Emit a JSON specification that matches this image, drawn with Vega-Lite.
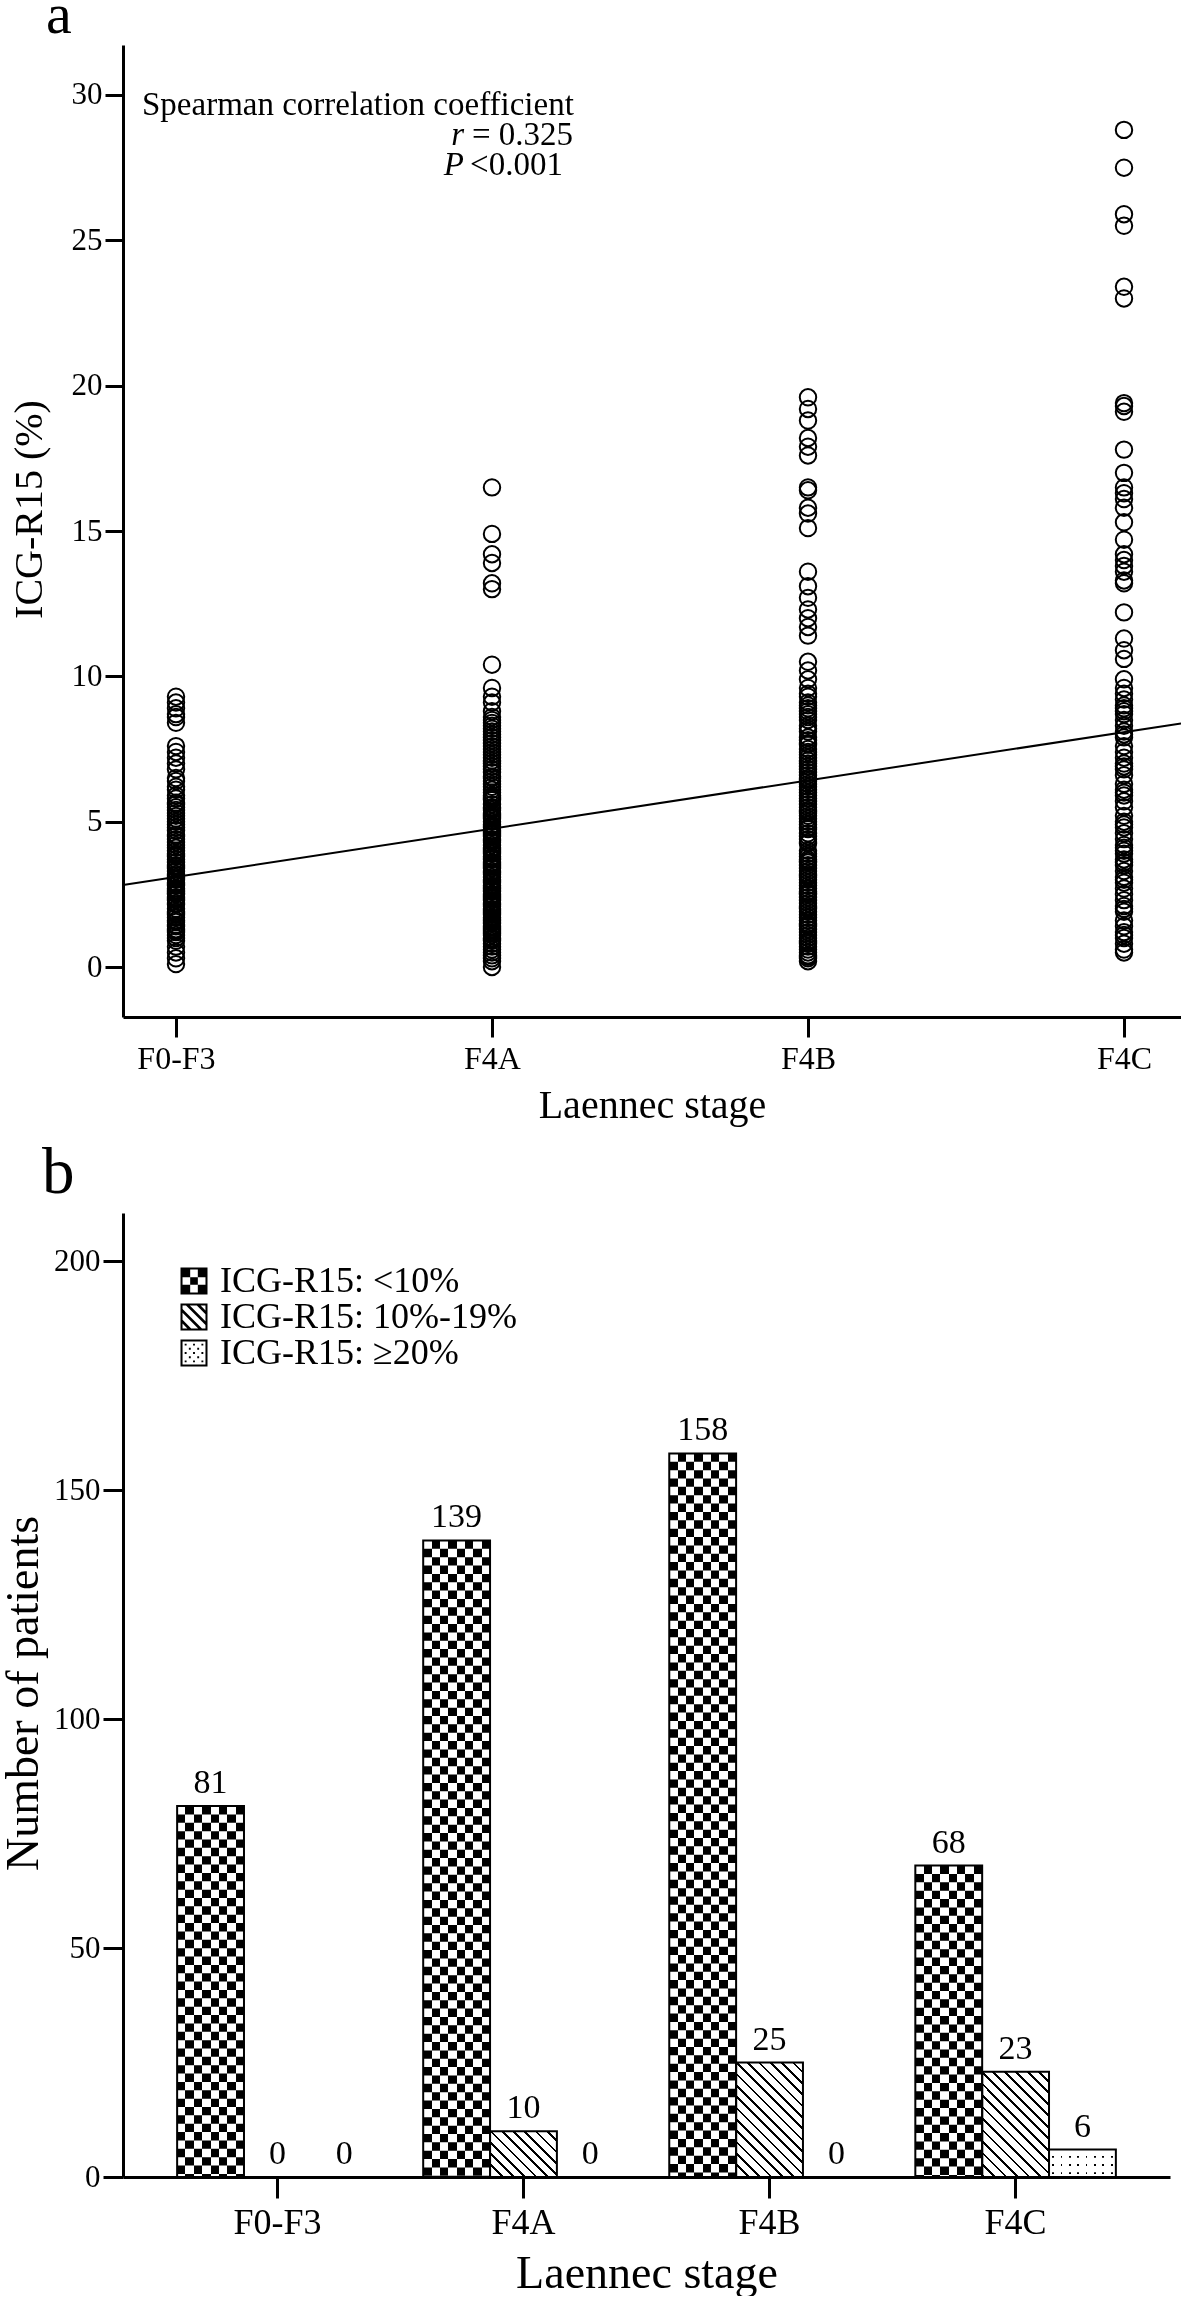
{
"$schema": "https://vega.github.io/schema/vega-lite/v6.json",
"background": "white",
"padding": {"left": 0, "top": -13, "right": 0, "bottom": 0},
"spacing": 16,
"resolve": {"legend": {"shape": "independent"}},
"config": {
  "view": {"stroke": null},
  "font": "Liberation Serif",
  "axis": {"grid": false, "domainColor": "#000", "tickColor": "#000", "labelColor": "#000", "titleColor": "#000", "labelFont": "Liberation Serif", "titleFont": "Liberation Serif", "titleFontWeight": "normal", "domainWidth": 3, "tickWidth": 3, "labelFlush": false, "labelOverlap": false},
  "title": {"font": "Liberation Serif", "fontWeight": "normal", "color": "#000"}
},
"datasets": {
  "pts": [
    {"s":1,"v":9.3},{"s":1,"v":9.1},{"s":1,"v":8.9},{"s":1,"v":8.7},{"s":1,"v":8.6},{"s":1,"v":8.4},{"s":1,"v":7.6},{"s":1,"v":7.4},{"s":1,"v":7.2},{"s":1,"v":7.0},
    {"s":1,"v":6.8},{"s":1,"v":6.5},{"s":1,"v":6.4},{"s":1,"v":6.2},{"s":1,"v":6.1},{"s":1,"v":5.9},{"s":1,"v":5.8},{"s":1,"v":5.65},{"s":1,"v":5.6},{"s":1,"v":5.5},
    {"s":1,"v":5.4},{"s":1,"v":5.3},{"s":1,"v":5.2},{"s":1,"v":5.1},{"s":1,"v":5.0},{"s":1,"v":4.9},{"s":1,"v":4.8},{"s":1,"v":4.7},{"s":1,"v":4.55},{"s":1,"v":4.5},
    {"s":1,"v":4.4},{"s":1,"v":4.3},{"s":1,"v":4.2},{"s":1,"v":4.1},{"s":1,"v":4.0},{"s":1,"v":3.9},{"s":1,"v":3.85},{"s":1,"v":3.8},{"s":1,"v":3.7},{"s":1,"v":3.6},
    {"s":1,"v":3.5},{"s":1,"v":3.45},{"s":1,"v":3.4},{"s":1,"v":3.3},{"s":1,"v":3.2},{"s":1,"v":3.15},{"s":1,"v":3.1},{"s":1,"v":3.05},{"s":1,"v":3.0},{"s":1,"v":2.9},
    {"s":1,"v":2.85},{"s":1,"v":2.8},{"s":1,"v":2.7},{"s":1,"v":2.65},{"s":1,"v":2.6},{"s":1,"v":2.55},{"s":1,"v":2.5},{"s":1,"v":2.4},{"s":1,"v":2.35},{"s":1,"v":2.3},
    {"s":1,"v":2.2},{"s":1,"v":2.15},{"s":1,"v":2.0},{"s":1,"v":1.9},{"s":1,"v":1.85},{"s":1,"v":1.8},{"s":1,"v":1.7},{"s":1,"v":1.6},{"s":1,"v":1.55},{"s":1,"v":1.45},
    {"s":1,"v":1.4},{"s":1,"v":1.3},{"s":1,"v":1.25},{"s":1,"v":1.2},{"s":1,"v":1.1},{"s":1,"v":1.0},{"s":1,"v":0.9},{"s":1,"v":0.7},{"s":1,"v":0.5},{"s":1,"v":0.3},{"s":1,"v":0.1},
    {"s":2,"v":16.5},{"s":2,"v":14.9},{"s":2,"v":14.2},{"s":2,"v":13.9},{"s":2,"v":13.2},{"s":2,"v":13.0},{"s":2,"v":10.4},{"s":2,"v":9.6},{"s":2,"v":9.3},{"s":2,"v":9.1},
    {"s":2,"v":8.8},{"s":2,"v":8.6},{"s":2,"v":8.5},{"s":2,"v":8.4},{"s":2,"v":8.3},{"s":2,"v":8.2},{"s":2,"v":8.1},{"s":2,"v":8.0},{"s":2,"v":7.9},{"s":2,"v":7.8},
    {"s":2,"v":7.7},{"s":2,"v":7.6},{"s":2,"v":7.5},{"s":2,"v":7.4},{"s":2,"v":7.3},{"s":2,"v":7.2},{"s":2,"v":7.1},{"s":2,"v":7.0},{"s":2,"v":6.9},{"s":2,"v":6.8},
    {"s":2,"v":6.7},{"s":2,"v":6.55},{"s":2,"v":6.5},{"s":2,"v":6.4},{"s":2,"v":6.3},{"s":2,"v":6.2},{"s":2,"v":6.1},{"s":2,"v":6.0},{"s":2,"v":5.9},{"s":2,"v":5.85},
    {"s":2,"v":5.8},{"s":2,"v":5.75},{"s":2,"v":5.6},{"s":2,"v":5.5},{"s":2,"v":5.45},{"s":2,"v":5.4},{"s":2,"v":5.3},{"s":2,"v":5.25},{"s":2,"v":5.2},{"s":2,"v":5.15},
    {"s":2,"v":5.1},{"s":2,"v":5.0},{"s":2,"v":4.9},{"s":2,"v":4.85},{"s":2,"v":4.8},{"s":2,"v":4.7},{"s":2,"v":4.65},{"s":2,"v":4.6},{"s":2,"v":4.55},{"s":2,"v":4.5},
    {"s":2,"v":4.4},{"s":2,"v":4.35},{"s":2,"v":4.3},{"s":2,"v":4.2},{"s":2,"v":4.1},{"s":2,"v":4.05},{"s":2,"v":4.0},{"s":2,"v":3.95},{"s":2,"v":3.9},{"s":2,"v":3.8},
    {"s":2,"v":3.75},{"s":2,"v":3.7},{"s":2,"v":3.6},{"s":2,"v":3.55},{"s":2,"v":3.5},{"s":2,"v":3.45},{"s":2,"v":3.4},{"s":2,"v":3.3},{"s":2,"v":3.25},{"s":2,"v":3.2},
    {"s":2,"v":3.1},{"s":2,"v":3.0},{"s":2,"v":2.95},{"s":2,"v":2.9},{"s":2,"v":2.8},{"s":2,"v":2.75},{"s":2,"v":2.7},{"s":2,"v":2.65},{"s":2,"v":2.6},{"s":2,"v":2.5},
    {"s":2,"v":2.45},{"s":2,"v":2.4},{"s":2,"v":2.35},{"s":2,"v":2.3},{"s":2,"v":2.2},{"s":2,"v":2.15},{"s":2,"v":2.1},{"s":2,"v":2.0},{"s":2,"v":1.95},{"s":2,"v":1.9},
    {"s":2,"v":1.85},{"s":2,"v":1.8},{"s":2,"v":1.7},{"s":2,"v":1.65},{"s":2,"v":1.6},{"s":2,"v":1.55},{"s":2,"v":1.5},{"s":2,"v":1.4},{"s":2,"v":1.35},{"s":2,"v":1.3},
    {"s":2,"v":1.25},{"s":2,"v":1.2},{"s":2,"v":1.15},{"s":2,"v":1.1},{"s":2,"v":1.0},{"s":2,"v":0.95},{"s":2,"v":0.9},{"s":2,"v":0.8},{"s":2,"v":0.7},{"s":2,"v":0.6},
    {"s":2,"v":0.5},{"s":2,"v":0.4},{"s":2,"v":0.3},{"s":2,"v":0.2},{"s":2,"v":0.0},
    {"s":3,"v":19.6},{"s":3,"v":19.2},{"s":3,"v":18.8},{"s":3,"v":18.2},{"s":3,"v":17.9},{"s":3,"v":17.6},{"s":3,"v":16.5},{"s":3,"v":16.4},{"s":3,"v":15.8},{"s":3,"v":15.6},
    {"s":3,"v":15.1},{"s":3,"v":13.6},{"s":3,"v":13.1},{"s":3,"v":12.7},{"s":3,"v":12.3},{"s":3,"v":12.0},{"s":3,"v":11.7},{"s":3,"v":11.4},{"s":3,"v":10.5},{"s":3,"v":10.2},
    {"s":3,"v":9.9},{"s":3,"v":9.6},{"s":3,"v":9.4},{"s":3,"v":9.3},{"s":3,"v":9.1},{"s":3,"v":9.0},{"s":3,"v":8.9},{"s":3,"v":8.8},{"s":3,"v":8.7},{"s":3,"v":8.6},
    {"s":3,"v":8.5},{"s":3,"v":8.3},{"s":3,"v":8.2},{"s":3,"v":8.1},{"s":3,"v":7.9},{"s":3,"v":7.8},{"s":3,"v":7.7},{"s":3,"v":7.65},{"s":3,"v":7.5},{"s":3,"v":7.4},
    {"s":3,"v":7.3},{"s":3,"v":7.2},{"s":3,"v":7.1},{"s":3,"v":7.0},{"s":3,"v":6.9},{"s":3,"v":6.8},{"s":3,"v":6.7},{"s":3,"v":6.6},{"s":3,"v":6.5},{"s":3,"v":6.45},
    {"s":3,"v":6.4},{"s":3,"v":6.3},{"s":3,"v":6.2},{"s":3,"v":6.1},{"s":3,"v":6.0},{"s":3,"v":5.9},{"s":3,"v":5.8},{"s":3,"v":5.7},{"s":3,"v":5.6},{"s":3,"v":5.5},
    {"s":3,"v":5.4},{"s":3,"v":5.35},{"s":3,"v":5.3},{"s":3,"v":5.2},{"s":3,"v":5.1},{"s":3,"v":5.0},{"s":3,"v":4.9},{"s":3,"v":4.8},{"s":3,"v":4.75},{"s":3,"v":4.6},
    {"s":3,"v":4.5},{"s":3,"v":4.4},{"s":3,"v":4.3},{"s":3,"v":4.25},{"s":3,"v":4.0},{"s":3,"v":3.9},{"s":3,"v":3.8},{"s":3,"v":3.7},{"s":3,"v":3.65},{"s":3,"v":3.6},
    {"s":3,"v":3.5},{"s":3,"v":3.4},{"s":3,"v":3.3},{"s":3,"v":3.2},{"s":3,"v":3.15},{"s":3,"v":3.1},{"s":3,"v":3.0},{"s":3,"v":2.9},{"s":3,"v":2.8},{"s":3,"v":2.7},
    {"s":3,"v":2.6},{"s":3,"v":2.55},{"s":3,"v":2.5},{"s":3,"v":2.4},{"s":3,"v":2.3},{"s":3,"v":2.2},{"s":3,"v":2.1},{"s":3,"v":2.05},{"s":3,"v":2.0},{"s":3,"v":1.9},
    {"s":3,"v":1.8},{"s":3,"v":1.7},{"s":3,"v":1.6},{"s":3,"v":1.5},{"s":3,"v":1.45},{"s":3,"v":1.4},{"s":3,"v":1.3},{"s":3,"v":1.2},{"s":3,"v":1.1},{"s":3,"v":1.0},
    {"s":3,"v":0.9},{"s":3,"v":0.85},{"s":3,"v":0.8},{"s":3,"v":0.7},{"s":3,"v":0.6},{"s":3,"v":0.5},{"s":3,"v":0.4},{"s":3,"v":0.35},{"s":3,"v":0.3},{"s":3,"v":0.2},
    {"s":4,"v":28.8},{"s":4,"v":27.5},{"s":4,"v":25.9},{"s":4,"v":25.5},{"s":4,"v":23.4},{"s":4,"v":23.0},{"s":4,"v":19.4},{"s":4,"v":19.3},{"s":4,"v":19.1},{"s":4,"v":17.8},
    {"s":4,"v":17.0},{"s":4,"v":16.5},{"s":4,"v":16.3},{"s":4,"v":16.1},{"s":4,"v":15.8},{"s":4,"v":15.3},{"s":4,"v":14.7},{"s":4,"v":14.2},{"s":4,"v":14.0},{"s":4,"v":13.8},
    {"s":4,"v":13.6},{"s":4,"v":13.3},{"s":4,"v":13.2},{"s":4,"v":12.2},{"s":4,"v":11.3},{"s":4,"v":10.9},{"s":4,"v":10.6},{"s":4,"v":9.9},{"s":4,"v":9.6},{"s":4,"v":9.4},
    {"s":4,"v":9.2},{"s":4,"v":9.0},{"s":4,"v":8.9},{"s":4,"v":8.8},{"s":4,"v":8.7},{"s":4,"v":8.5},{"s":4,"v":8.3},{"s":4,"v":8.1},{"s":4,"v":8.0},{"s":4,"v":7.9},
    {"s":4,"v":7.6},{"s":4,"v":7.4},{"s":4,"v":7.2},{"s":4,"v":7.0},{"s":4,"v":6.9},{"s":4,"v":6.8},{"s":4,"v":6.6},{"s":4,"v":6.3},{"s":4,"v":6.1},{"s":4,"v":6.0},
    {"s":4,"v":5.9},{"s":4,"v":5.7},{"s":4,"v":5.5},{"s":4,"v":5.2},{"s":4,"v":5.0},{"s":4,"v":4.9},{"s":4,"v":4.8},{"s":4,"v":4.6},{"s":4,"v":4.4},{"s":4,"v":4.2},
    {"s":4,"v":4.1},{"s":4,"v":4.0},{"s":4,"v":3.9},{"s":4,"v":3.7},{"s":4,"v":3.6},{"s":4,"v":3.5},{"s":4,"v":3.3},{"s":4,"v":3.1},{"s":4,"v":3.0},{"s":4,"v":2.9},
    {"s":4,"v":2.7},{"s":4,"v":2.5},{"s":4,"v":2.3},{"s":4,"v":2.1},{"s":4,"v":2.0},{"s":4,"v":1.9},{"s":4,"v":1.6},{"s":4,"v":1.4},{"s":4,"v":1.2},{"s":4,"v":1.1},
    {"s":4,"v":1.0},{"s":4,"v":0.8},{"s":4,"v":0.6},{"s":4,"v":0.5}
  ]
},
"vconcat": [
  {
    "width": 1058, "height": 972,
    "title": {"text": "a", "anchor": "start", "frame": "group", "fontSize": 58, "baseline": "alphabetic", "offset": -46, "dx": -77},
    "layer": [
      {"data": {"name": "pts"}, "mark": {"type": "point", "shape": "circle", "size": 270, "filled": false, "stroke": "#000", "strokeWidth": 2, "opacity": 1},
       "encoding": {
         "x": {"field": "s", "type": "quantitative", "title": "Laennec stage", "scale": {"domain": [0.8323, 4.1804], "nice": false, "zero": false},
               "axis": {"values": [1, 2, 3, 4], "labelExpr": "datum.value == 1 ? 'F0-F3' : datum.value == 2 ? 'F4A' : datum.value == 3 ? 'F4B' : 'F4C'", "titleFontSize": 40, "titleY": 100, "titleBaseline": "alphabetic", "labelFontSize": 32, "labelPadding": 6, "tickSize": 20}},
         "y": {"field": "v", "type": "quantitative", "title": "ICG-R15 (%)", "scale": {"domain": [-1.72, 31.72], "nice": false, "zero": false},
               "axis": {"values": [0, 5, 10, 15, 20, 25, 30], "titleFontSize": 40, "titleAngle": 270, "titleX": -81.5, "titleY": 464, "titleAlign": "center", "titleBaseline": "alphabetic", "labelFontSize": 31, "labelPadding": 3, "tickSize": 18}}
       }},
      {"data": {"values": [{"s": 0.8323, "v": 2.82}, {"s": 4.1804, "v": 8.38}]}, "mark": {"type": "line", "stroke": "#000", "strokeWidth": 2},
       "encoding": {
         "x": {"field": "s", "type": "quantitative", "title": "Laennec stage", "scale": {"domain": [0.8323, 4.1804], "nice": false, "zero": false}},
         "y": {"field": "v", "type": "quantitative", "title": "ICG-R15 (%)", "scale": {"domain": [-1.72, 31.72], "nice": false, "zero": false}}}},
      {"data": {"values": [{}]}, "mark": {"type": "text", "align": "left", "baseline": "alphabetic", "fontSize": 33, "font": "Liberation Serif", "color": "#000", "text": "Spearman correlation coefficient"},
       "encoding": {"x": {"datum": 0.8924, "type": "quantitative", "title": "Laennec stage", "scale": {"domain": [0.8323, 4.1804], "nice": false, "zero": false}}, "y": {"datum": 29.31, "type": "quantitative", "title": "ICG-R15 (%)", "scale": {"domain": [-1.72, 31.72], "nice": false, "zero": false}}}},
      {"data": {"values": [{}]}, "mark": {"type": "text", "align": "right", "baseline": "alphabetic", "fontSize": 33, "font": "Liberation Serif", "color": "#000", "text": "= 0.325"},
       "encoding": {"x": {"datum": 2.2564, "type": "quantitative", "title": "Laennec stage", "scale": {"domain": [0.8323, 4.1804], "nice": false, "zero": false}}, "y": {"datum": 28.28, "type": "quantitative", "title": "ICG-R15 (%)", "scale": {"domain": [-1.72, 31.72], "nice": false, "zero": false}}}},
      {"data": {"values": [{}]}, "mark": {"type": "text", "align": "right", "baseline": "alphabetic", "fontSize": 33, "font": "Liberation Serif", "fontStyle": "italic", "color": "#000", "text": "r"},
       "encoding": {"x": {"datum": 1.9114, "type": "quantitative", "title": "Laennec stage", "scale": {"domain": [0.8323, 4.1804], "nice": false, "zero": false}}, "y": {"datum": 28.28, "type": "quantitative", "title": "ICG-R15 (%)", "scale": {"domain": [-1.72, 31.72], "nice": false, "zero": false}}}},
      {"data": {"values": [{}]}, "mark": {"type": "text", "align": "right", "baseline": "alphabetic", "fontSize": 33, "font": "Liberation Serif", "color": "#000", "text": "<0.001"},
       "encoding": {"x": {"datum": 2.2247, "type": "quantitative", "title": "Laennec stage", "scale": {"domain": [0.8323, 4.1804], "nice": false, "zero": false}}, "y": {"datum": 27.24, "type": "quantitative", "title": "ICG-R15 (%)", "scale": {"domain": [-1.72, 31.72], "nice": false, "zero": false}}}},
      {"data": {"values": [{}]}, "mark": {"type": "text", "align": "right", "baseline": "alphabetic", "fontSize": 33, "font": "Liberation Serif", "fontStyle": "italic", "color": "#000", "text": "P"},
       "encoding": {"x": {"datum": 1.9114, "type": "quantitative", "title": "Laennec stage", "scale": {"domain": [0.8323, 4.1804], "nice": false, "zero": false}}, "y": {"datum": 27.24, "type": "quantitative", "title": "ICG-R15 (%)", "scale": {"domain": [-1.72, 31.72], "nice": false, "zero": false}}}}
    ]
  },
  {
    "width": 1047, "height": 964,
    "title": {"text": "b", "anchor": "start", "frame": "group", "fontSize": 65, "baseline": "alphabetic", "offset": -45, "dx": -81},
    "data": {"values": [
      {"stage": "F0-F3", "g": "ICG-R15: <10%", "n": 81}, {"stage": "F0-F3", "g": "ICG-R15: 10%-19%", "n": 0}, {"stage": "F0-F3", "g": "ICG-R15: ≥20%", "n": 0},
      {"stage": "F4A", "g": "ICG-R15: <10%", "n": 139}, {"stage": "F4A", "g": "ICG-R15: 10%-19%", "n": 10}, {"stage": "F4A", "g": "ICG-R15: ≥20%", "n": 0},
      {"stage": "F4B", "g": "ICG-R15: <10%", "n": 158}, {"stage": "F4B", "g": "ICG-R15: 10%-19%", "n": 25}, {"stage": "F4B", "g": "ICG-R15: ≥20%", "n": 0},
      {"stage": "F4C", "g": "ICG-R15: <10%", "n": 68}, {"stage": "F4C", "g": "ICG-R15: 10%-19%", "n": 23}, {"stage": "F4C", "g": "ICG-R15: ≥20%", "n": 6}
    ]},
    "encoding": {
      "x": {"field": "stage", "type": "nominal", "scale": {"domain": ["F0-F3", "F4A", "F4B", "F4C"], "paddingInner": 0.185, "paddingOuter": 0.22},
            "axis": {"title": "Laennec stage", "titleFontSize": 46, "titleY": 110, "titleBaseline": "alphabetic", "labelFontSize": 36, "labelPadding": 7, "tickSize": 21, "labelAngle": 0}},
      "xOffset": {"field": "g", "type": "nominal", "scale": {"domain": ["ICG-R15: <10%", "ICG-R15: 10%-19%", "ICG-R15: ≥20%"], "paddingInner": 0, "paddingOuter": 0}},
      "y": {"field": "n", "type": "quantitative", "scale": {"domain": [0, 210.5], "nice": false},
            "axis": {"values": [0, 50, 100, 150, 200], "title": "Number of patients", "titleFontSize": 46, "titleAngle": 270, "titleX": -86, "titleY": 480, "titleAlign": "center", "titleBaseline": "alphabetic", "labelFontSize": 31, "labelPadding": 3, "tickSize": 20}}
    },
    "layer": [
      {"transform": [{"filter": "datum.g === 'ICG-R15: <10%'"}],
       "mark": {"type": "bar", "strokeWidth": 0, "fill": {"gradient": "linear", "x1": 0, "y1": 0, "x2": 1, "y2": 0, "stops": [
         {"offset": 0, "color": "#000"}, {"offset": 0.125, "color": "#000"}, {"offset": 0.125, "color": "#fff"}, {"offset": 0.25, "color": "#fff"},
         {"offset": 0.25, "color": "#000"}, {"offset": 0.375, "color": "#000"}, {"offset": 0.375, "color": "#fff"}, {"offset": 0.5, "color": "#fff"},
         {"offset": 0.5, "color": "#000"}, {"offset": 0.625, "color": "#000"}, {"offset": 0.625, "color": "#fff"}, {"offset": 0.75, "color": "#fff"},
         {"offset": 0.75, "color": "#000"}, {"offset": 0.875, "color": "#000"}, {"offset": 0.875, "color": "#fff"}, {"offset": 1, "color": "#fff"}]}}},
      {"transform": [{"filter": "datum.g === 'ICG-R15: <10%'"}],
       "mark": {"type": "rule", "stroke": "#fff", "strokeWidth": 66.8, "strokeDash": [8.36, 8.36], "strokeCap": "butt", "blend": "difference"},
       "encoding": {"y2": {"datum": 0}}},
      {"transform": [{"filter": "datum.g === 'ICG-R15: 10%-19%' && datum.stage === 'F4A'"}],
       "mark": {"type": "bar", "strokeWidth": 0, "fill": {"gradient": "linear", "x1": 0, "y1": 1, "x2": 1.1468, "y2": 0.2143, "stops": [
         {"offset": 0, "color": "#000"}, {"offset": 0.025, "color": "#000"}, {"offset": 0.025, "color": "#fff"}, {"offset": 0.1, "color": "#fff"},
         {"offset": 0.1, "color": "#000"}, {"offset": 0.125, "color": "#000"}, {"offset": 0.125, "color": "#fff"}, {"offset": 0.2, "color": "#fff"},
         {"offset": 0.2, "color": "#000"}, {"offset": 0.225, "color": "#000"}, {"offset": 0.225, "color": "#fff"}, {"offset": 0.3, "color": "#fff"},
         {"offset": 0.3, "color": "#000"}, {"offset": 0.325, "color": "#000"}, {"offset": 0.325, "color": "#fff"}, {"offset": 0.4, "color": "#fff"},
         {"offset": 0.4, "color": "#000"}, {"offset": 0.425, "color": "#000"}, {"offset": 0.425, "color": "#fff"}, {"offset": 0.5, "color": "#fff"},
         {"offset": 0.5, "color": "#000"}, {"offset": 0.525, "color": "#000"}, {"offset": 0.525, "color": "#fff"}, {"offset": 0.6, "color": "#fff"},
         {"offset": 0.6, "color": "#000"}, {"offset": 0.625, "color": "#000"}, {"offset": 0.625, "color": "#fff"}, {"offset": 0.7, "color": "#fff"},
         {"offset": 0.7, "color": "#000"}, {"offset": 0.725, "color": "#000"}, {"offset": 0.725, "color": "#fff"}, {"offset": 0.8, "color": "#fff"},
         {"offset": 0.8, "color": "#000"}, {"offset": 0.825, "color": "#000"}, {"offset": 0.825, "color": "#fff"}, {"offset": 0.9, "color": "#fff"},
         {"offset": 0.9, "color": "#000"}, {"offset": 0.925, "color": "#000"}, {"offset": 0.925, "color": "#fff"}, {"offset": 1, "color": "#fff"}]}}},
      {"transform": [{"filter": "datum.g === 'ICG-R15: 10%-19%' && datum.stage === 'F4B'"}],
       "mark": {"type": "bar", "strokeWidth": 0, "fill": {"gradient": "linear", "x1": 0, "y1": 1, "x2": 0.6896, "y2": -0.1812, "stops": [
         {"offset": 0, "color": "#000"}, {"offset": 0.015625, "color": "#000"}, {"offset": 0.015625, "color": "#fff"}, {"offset": 0.0625, "color": "#fff"},
         {"offset": 0.0625, "color": "#000"}, {"offset": 0.078125, "color": "#000"}, {"offset": 0.078125, "color": "#fff"}, {"offset": 0.125, "color": "#fff"},
         {"offset": 0.125, "color": "#000"}, {"offset": 0.140625, "color": "#000"}, {"offset": 0.140625, "color": "#fff"}, {"offset": 0.1875, "color": "#fff"},
         {"offset": 0.1875, "color": "#000"}, {"offset": 0.203125, "color": "#000"}, {"offset": 0.203125, "color": "#fff"}, {"offset": 0.25, "color": "#fff"},
         {"offset": 0.25, "color": "#000"}, {"offset": 0.265625, "color": "#000"}, {"offset": 0.265625, "color": "#fff"}, {"offset": 0.3125, "color": "#fff"},
         {"offset": 0.3125, "color": "#000"}, {"offset": 0.328125, "color": "#000"}, {"offset": 0.328125, "color": "#fff"}, {"offset": 0.375, "color": "#fff"},
         {"offset": 0.375, "color": "#000"}, {"offset": 0.390625, "color": "#000"}, {"offset": 0.390625, "color": "#fff"}, {"offset": 0.4375, "color": "#fff"},
         {"offset": 0.4375, "color": "#000"}, {"offset": 0.453125, "color": "#000"}, {"offset": 0.453125, "color": "#fff"}, {"offset": 0.5, "color": "#fff"},
         {"offset": 0.5, "color": "#000"}, {"offset": 0.515625, "color": "#000"}, {"offset": 0.515625, "color": "#fff"}, {"offset": 0.5625, "color": "#fff"},
         {"offset": 0.5625, "color": "#000"}, {"offset": 0.578125, "color": "#000"}, {"offset": 0.578125, "color": "#fff"}, {"offset": 0.625, "color": "#fff"},
         {"offset": 0.625, "color": "#000"}, {"offset": 0.640625, "color": "#000"}, {"offset": 0.640625, "color": "#fff"}, {"offset": 0.6875, "color": "#fff"},
         {"offset": 0.6875, "color": "#000"}, {"offset": 0.703125, "color": "#000"}, {"offset": 0.703125, "color": "#fff"}, {"offset": 0.75, "color": "#fff"},
         {"offset": 0.75, "color": "#000"}, {"offset": 0.765625, "color": "#000"}, {"offset": 0.765625, "color": "#fff"}, {"offset": 0.8125, "color": "#fff"},
         {"offset": 0.8125, "color": "#000"}, {"offset": 0.828125, "color": "#000"}, {"offset": 0.828125, "color": "#fff"}, {"offset": 0.875, "color": "#fff"},
         {"offset": 0.875, "color": "#000"}, {"offset": 0.890625, "color": "#000"}, {"offset": 0.890625, "color": "#fff"}, {"offset": 0.9375, "color": "#fff"},
         {"offset": 0.9375, "color": "#000"}, {"offset": 0.953125, "color": "#000"}, {"offset": 0.953125, "color": "#fff"}, {"offset": 1, "color": "#fff"}]}}},
      {"transform": [{"filter": "datum.g === 'ICG-R15: 10%-19%' && datum.stage === 'F4C'"}],
       "mark": {"type": "bar", "strokeWidth": 0, "fill": {"gradient": "linear", "x1": 0, "y1": 1, "x2": 0.7397, "y2": -0.1652, "stops": [
         {"offset": 0, "color": "#000"}, {"offset": 0.0167, "color": "#000"}, {"offset": 0.0167, "color": "#fff"}, {"offset": 0.0667, "color": "#fff"},
         {"offset": 0.0667, "color": "#000"}, {"offset": 0.0833, "color": "#000"}, {"offset": 0.0833, "color": "#fff"}, {"offset": 0.1333, "color": "#fff"},
         {"offset": 0.1333, "color": "#000"}, {"offset": 0.15, "color": "#000"}, {"offset": 0.15, "color": "#fff"}, {"offset": 0.2, "color": "#fff"},
         {"offset": 0.2, "color": "#000"}, {"offset": 0.2167, "color": "#000"}, {"offset": 0.2167, "color": "#fff"}, {"offset": 0.2667, "color": "#fff"},
         {"offset": 0.2667, "color": "#000"}, {"offset": 0.2833, "color": "#000"}, {"offset": 0.2833, "color": "#fff"}, {"offset": 0.3333, "color": "#fff"},
         {"offset": 0.3333, "color": "#000"}, {"offset": 0.35, "color": "#000"}, {"offset": 0.35, "color": "#fff"}, {"offset": 0.4, "color": "#fff"},
         {"offset": 0.4, "color": "#000"}, {"offset": 0.4167, "color": "#000"}, {"offset": 0.4167, "color": "#fff"}, {"offset": 0.4667, "color": "#fff"},
         {"offset": 0.4667, "color": "#000"}, {"offset": 0.4833, "color": "#000"}, {"offset": 0.4833, "color": "#fff"}, {"offset": 0.5333, "color": "#fff"},
         {"offset": 0.5333, "color": "#000"}, {"offset": 0.55, "color": "#000"}, {"offset": 0.55, "color": "#fff"}, {"offset": 0.6, "color": "#fff"},
         {"offset": 0.6, "color": "#000"}, {"offset": 0.6167, "color": "#000"}, {"offset": 0.6167, "color": "#fff"}, {"offset": 0.6667, "color": "#fff"},
         {"offset": 0.6667, "color": "#000"}, {"offset": 0.6833, "color": "#000"}, {"offset": 0.6833, "color": "#fff"}, {"offset": 0.7333, "color": "#fff"},
         {"offset": 0.7333, "color": "#000"}, {"offset": 0.75, "color": "#000"}, {"offset": 0.75, "color": "#fff"}, {"offset": 0.8, "color": "#fff"},
         {"offset": 0.8, "color": "#000"}, {"offset": 0.8167, "color": "#000"}, {"offset": 0.8167, "color": "#fff"}, {"offset": 0.8667, "color": "#fff"},
         {"offset": 0.8667, "color": "#000"}, {"offset": 0.8833, "color": "#000"}, {"offset": 0.8833, "color": "#fff"}, {"offset": 0.9333, "color": "#fff"},
         {"offset": 0.9333, "color": "#000"}, {"offset": 0.95, "color": "#000"}, {"offset": 0.95, "color": "#fff"}, {"offset": 1, "color": "#fff"}]}}},
      {"transform": [{"filter": "datum.g === 'ICG-R15: ≥20%'"}],
       "mark": {"type": "bar", "strokeWidth": 0, "fill": {"gradient": "linear", "x1": 0, "y1": 0, "x2": 1, "y2": 0, "stops": [
         {"offset": 0, "color": "#fff"}, {"offset": 0.05, "color": "#fff"}, {"offset": 0.05, "color": "#000"}, {"offset": 0.075, "color": "#000"}, {"offset": 0.075, "color": "#fff"},
         {"offset": 0.175, "color": "#fff"}, {"offset": 0.175, "color": "#000"}, {"offset": 0.2, "color": "#000"}, {"offset": 0.2, "color": "#fff"},
         {"offset": 0.3, "color": "#fff"}, {"offset": 0.3, "color": "#000"}, {"offset": 0.325, "color": "#000"}, {"offset": 0.325, "color": "#fff"},
         {"offset": 0.425, "color": "#fff"}, {"offset": 0.425, "color": "#000"}, {"offset": 0.45, "color": "#000"}, {"offset": 0.45, "color": "#fff"},
         {"offset": 0.55, "color": "#fff"}, {"offset": 0.55, "color": "#000"}, {"offset": 0.575, "color": "#000"}, {"offset": 0.575, "color": "#fff"},
         {"offset": 0.675, "color": "#fff"}, {"offset": 0.675, "color": "#000"}, {"offset": 0.7, "color": "#000"}, {"offset": 0.7, "color": "#fff"},
         {"offset": 0.8, "color": "#fff"}, {"offset": 0.8, "color": "#000"}, {"offset": 0.825, "color": "#000"}, {"offset": 0.825, "color": "#fff"},
         {"offset": 0.925, "color": "#fff"}, {"offset": 0.925, "color": "#000"}, {"offset": 0.95, "color": "#000"}, {"offset": 0.95, "color": "#fff"}, {"offset": 1, "color": "#fff"}]}}},
      {"transform": [{"filter": "datum.g === 'ICG-R15: ≥20%'"}],
       "mark": {"type": "rule", "stroke": "#fff", "strokeWidth": 66.8, "strokeDash": [6.4, 1.8], "strokeCap": "butt"},
       "encoding": {"y2": {"datum": 0}}},
      {"mark": {"type": "bar", "stroke": "#000", "strokeWidth": 2, "fill": "transparent"}},
      {"mark": {"type": "point", "filled": true, "size": 0, "opacity": 0, "color": "#000"},
       "encoding": {"shape": {"field": "g", "type": "nominal",
         "scale": {"domain": ["ICG-R15: <10%", "ICG-R15: 10%-19%", "ICG-R15: ≥20%"], "range": [
           "M-1,-1h2v0.15h-2z M-1,0.85h2v0.15h-2z M-1,-1h0.15v2h-0.15z M0.85,-1h0.15v2h-0.15z M-0.85,-0.85h0.567v0.567h-0.567z M0.283,-0.85h0.567v0.567h-0.567z M-0.283,-0.283h0.567v0.567h-0.567z M-0.85,0.283h0.567v0.567h-0.567z M0.283,0.283h0.567v0.567h-0.567z",
           "M-1,-1h2v0.15h-2z M-1,0.85h2v0.15h-2z M-1,-1h0.15v2h-0.15z M0.85,-1h0.15v2h-0.15z M-0.59,-0.85L-0.31,-0.85L0.85,0.31L0.85,0.59Z M0.21,-0.85L0.49,-0.85L0.85,-0.49L0.85,-0.21Z M-0.85,-0.59L0.59,0.85L0.31,0.85L-0.85,-0.31Z M-0.85,0.21L-0.21,0.85L-0.49,0.85L-0.85,0.49Z",
           "M-1,-1h2v0.15h-2z M-1,0.85h2v0.15h-2z M-1,-1h0.15v2h-0.15z M0.85,-1h0.15v2h-0.15z M-0.69,-0.69h0.14v0.14h-0.14z M-0.07,-0.69h0.14v0.14h-0.14z M0.55,-0.69h0.14v0.14h-0.14z M-0.38,-0.38h0.14v0.14h-0.14z M0.24,-0.38h0.14v0.14h-0.14z M-0.69,-0.07h0.14v0.14h-0.14z M-0.07,-0.07h0.14v0.14h-0.14z M0.55,-0.07h0.14v0.14h-0.14z M-0.38,0.24h0.14v0.14h-0.14z M0.24,0.24h0.14v0.14h-0.14z M-0.69,0.55h0.14v0.14h-0.14z M-0.07,0.55h0.14v0.14h-0.14z M0.55,0.55h0.14v0.14h-0.14z"]},
         "legend": {"orient": "none", "legendX": 53, "legendY": 50, "title": null, "symbolSize": 729, "symbolFillColor": "#000", "symbolStrokeColor": "#000", "symbolStrokeWidth": 0, "symbolOpacity": 1,
           "labelFontSize": 36, "labelFont": "Liberation Serif", "labelColor": "#000", "labelOffset": 8, "labelLimit": 0, "rowPadding": -1, "padding": 0}}}},
      {"mark": {"type": "text", "baseline": "alphabetic", "dy": -13, "fontSize": 34, "font": "Liberation Serif", "color": "#000"},
       "encoding": {"text": {"field": "n", "type": "quantitative"}}}
    ]
  }
]
}
